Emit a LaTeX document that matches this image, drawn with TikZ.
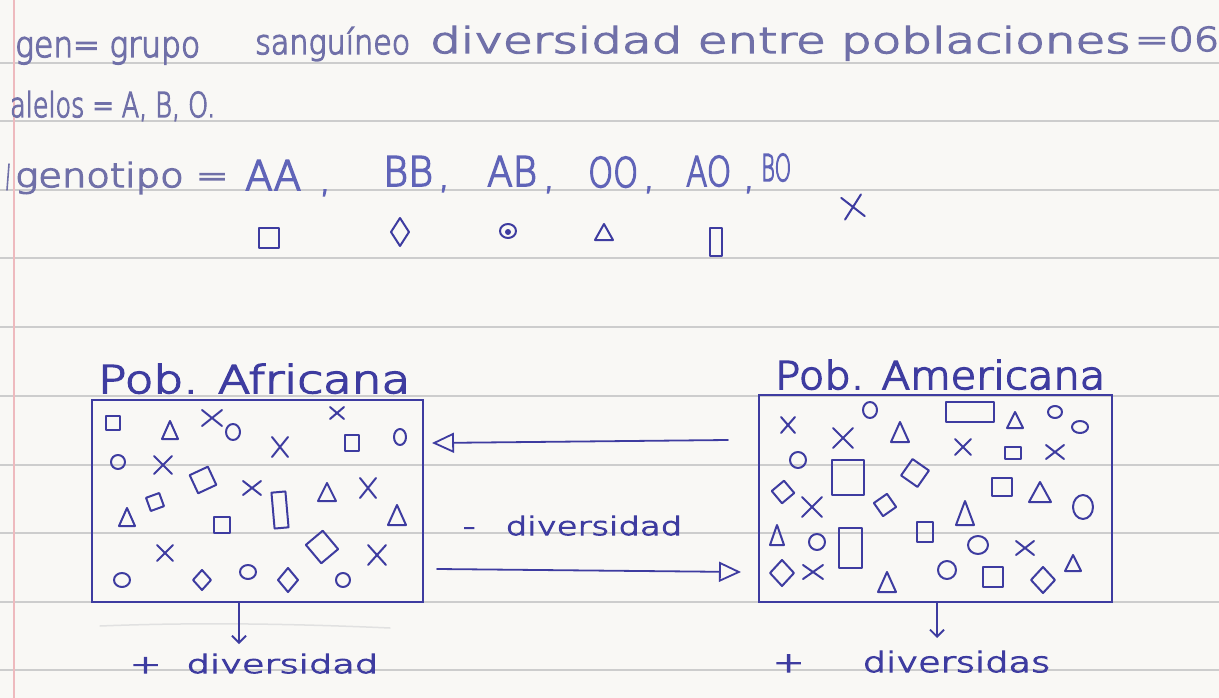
\documentclass[tikz,border=0pt]{standalone}
\usepackage{fontspec}
\usepackage{graphicx}
\setmainfont{DejaVu Sans ExtraLight}[FakeBold=4]
\usetikzlibrary{arrows.meta}

\definecolor{paper}{RGB}{249,248,245}
\definecolor{rulegray}{RGB}{205,205,205}
\definecolor{marginred}{RGB}{238,186,190}
\definecolor{pencil}{RGB}{112,112,168}
\definecolor{inkblue}{RGB}{62,60,160}
\definecolor{inklight}{RGB}{96,100,184}

% handwritten-style word: width, height above baseline, text
\newcommand\hw[3]{\resizebox{#1pt}{#2pt}{\vphantom{Ah}#3}}

% small ink symbols: x, y, width, height, rotation
\newcommand\shSq[5]{\draw[ink,shift={(#1,#2)},rotate=#5] (-#3/2,-#4/2) rectangle (#3/2,#4/2);}
\newcommand\shDm[5]{\draw[ink,shift={(#1,#2)},rotate=#5] (0,-#4/2) -- (#3/2,0) -- (0,#4/2) -- (-#3/2,0) -- cycle;}
\newcommand\shTr[5]{\draw[ink,shift={(#1,#2)},rotate=#5] (-#3/2,#4/2) -- (#3/2,#4/2) -- (0,-#4/2) -- cycle;}
\newcommand\shX[5]{\draw[ink,shift={(#1,#2)},rotate=#5] (-#3/2,-#4/2) -- (#3/2,#4/2) (-#3/2,#4/2) -- (#3/2,-#4/2);}
\newcommand\shCi[4]{\draw[ink] (#1,#2) ellipse [x radius=#3pt, y radius=#4pt];}

\begin{document}
\begin{tikzpicture}[x=1pt,y=-1pt,
  ink/.style={draw=inkblue,line width=2pt,line cap=round,line join=round},
  popbox/.style={draw=inkblue,line width=2.4pt,inner sep=0pt},
  word/.style={anchor=base west,inner sep=0pt,text=inkblue},
  pword/.style={anchor=base west,inner sep=0pt,text=pencil},
  lword/.style={anchor=base west,inner sep=0pt,text=inklight},
  commamark/.style={anchor=base,inner sep=0pt,text=inklight,font=\fontsize{34}{34}\selectfont},
  flow/.style={draw=inkblue,line width=1.8pt,line cap=round},
  openhead/.style={-{Triangle[open,length=22pt,width=20pt,line width=1.8pt]}},
  downhead/.style={-{Straight Barb[length=7pt,width=14pt,line width=1.8pt]}}]

\useasboundingbox (0,0) rectangle (1219,698);
\fill[paper] (0,0) rectangle (1219,698);

% notebook ruling and margin
\foreach \yy in {63,121,190,258,327,396,465,533,602,670}
  \draw[rulegray,line width=1.2pt] (0,\yy) -- (1219,\yy);
\draw[marginred,line width=1.4pt] (14,0) -- (14,698);
\draw[rulegray!60,line width=1.5pt,line cap=round] (100,626) .. controls (200,622) and (300,624) .. (390,628);

% header lines
\node[pword] (gen) at (15,57) {\hw{185}{27}{gen= grupo}};
\node[pword] (sang) at (255,54) {\hw{155}{27}{sanguíneo}};
\node[pword] (div) at (430,53) {\hw{700}{27}{diversidad entre poblaciones}};
\node[pword] (val) at (1135,51) {\hw{84}{25}{=06}};
\node[pword] (alelos) at (10,117) {\hw{205}{26}{alelos = A, B, O.}};
\draw[pencil,line width=1.6pt,line cap=round] (9,164) -- (7,190);
\node[pword] (genot) at (15,187) {\hw{213}{25}{genotipo =}};
\node[lword] (gAA) at (245,190) {\hw{56}{31}{AA}};
\node[lword] (gBB) at (383,186) {\hw{50}{31}{BB}};
\node[lword] (gAB) at (487,186) {\hw{50}{31}{AB}};
\node[lword] (gOO) at (588,187) {\hw{50}{31}{OO}};
\node[lword] (gAO) at (686,186) {\hw{45}{31}{AO}};
\node[lword] (gBO) at (761,181) {\hw{30}{28}{BO}};
\foreach \cx/\cy in {325/192,444/188,549/189,649/189,749/189}
  \node[commamark] at (\cx,\cy) {,};

% legend of genotype symbols
\shSq{269}{238}{20}{20}{0}
\shDm{400}{232}{18}{28}{0}
\shCi{508}{231}{8}{7}
\fill[inkblue] (508,232) circle[radius=3pt];
\shTr{604}{232}{18}{16}{0}
\shSq{716}{242}{12}{28}{0}
\shX{853}{207}{20}{22}{10}

% populations
\node[word] (tafr) at (98,393) {\hw{312}{29}{Pob. Africana}};
\node[word] (tamer) at (775,389) {\hw{330}{29}{Pob. Americana}};
\node[popbox,minimum width=331pt,minimum height=202pt] (afr) at (257.5,501) {};
\node[popbox,minimum width=353pt,minimum height=207pt] (amer) at (935.5,498.5) {};

% African population sample
\shSq{113}{423}{14}{14}{0}
\shTr{170}{430}{16}{18}{0}
\shX{212}{418}{20}{16}{0}
\shCi{233}{432}{7}{8}
\shX{280}{447}{16}{20}{0}
\shX{337}{413}{14}{12}{0}
\shSq{352}{443}{14}{16}{0}
\shCi{400}{437}{6}{8}
\shCi{118}{462}{7}{7}
\shX{163}{465}{18}{18}{0}
\shSq{203}{480}{20}{20}{25}
\shX{252}{488}{18}{14}{0}
\shSq{280}{510}{14}{36}{5}
\shTr{327}{492}{18}{18}{0}
\shX{368}{488}{16}{20}{0}
\shTr{397}{515}{18}{20}{0}
\shTr{127}{517}{16}{18}{0}
\shSq{155}{502}{14}{14}{20}
\shSq{222}{525}{16}{16}{0}
\shX{165}{553}{16}{16}{0}
\shSq{322}{547}{22}{24}{40}
\shX{377}{555}{18}{20}{0}
\shCi{122}{580}{8}{7}
\shDm{202}{580}{18}{20}{0}
\shCi{248}{572}{8}{7}
\shDm{288}{580}{20}{24}{0}
\shCi{343}{580}{7}{7}

% American population sample
\shX{788}{425}{14}{16}{0}
\shCi{870}{410}{7}{8}
\shX{843}{438}{20}{20}{0}
\shTr{900}{432}{18}{20}{0}
\shSq{970}{412}{48}{20}{0}
\shTr{1015}{420}{16}{16}{0}
\shCi{1055}{412}{7}{6}
\shCi{1080}{427}{8}{6}
\shX{963}{447}{16}{16}{0}
\shSq{1013}{453}{16}{12}{0}
\shX{1055}{452}{18}{14}{0}
\shCi{798}{460}{8}{8}
\shSq{848}{477}{32}{35}{0}
\shSq{915}{473}{20}{20}{-35}
\shSq{783}{492}{16}{16}{40}
\shX{812}{507}{20}{20}{0}
\shSq{1002}{487}{20}{18}{0}
\shTr{1040}{492}{22}{20}{0}
\shCi{1083}{507}{10}{12}
\shSq{885}{505}{16}{16}{35}
\shTr{965}{513}{18}{24}{0}
\shTr{777}{535}{14}{20}{0}
\shCi{817}{542}{8}{8}
\shSq{850}{548}{23}{40}{0}
\shSq{925}{532}{16}{20}{0}
\shCi{978}{545}{10}{9}
\shX{1025}{548}{18}{14}{0}
\shDm{782}{573}{24}{26}{0}
\shX{813}{572}{20}{14}{0}
\shTr{887}{582}{18}{20}{0}
\shCi{947}{570}{9}{9}
\shSq{993}{577}{20}{20}{0}
\shDm{1043}{580}{24}{26}{0}
\shTr{1073}{563}{16}{16}{0}

% exchange between populations
\coordinate (gfrom) at (728,440);
\coordinate (gto) at (432,443);
\draw[flow,openhead] (gfrom) -- (gto);
\node[word] (less) at (463,535) {\hw{219}{19}{-\hspace{0.9em}diversidad}};
\coordinate (hfrom) at (437,569);
\coordinate (hto) at (741,572);
\draw[flow,openhead] (hfrom) -- (hto);

% outcome below each population
\node[word] (morea) at (130,673) {\hw{248}{19}{+\hspace{0.7em}diversidad}};
\node[word] (moreb) at (773,672) {\hw{277}{21}{+\hspace{1.6em}diversidas}};
\draw[flow,downhead] (afr.south -| 239,0) -- (239,644);
\draw[flow,downhead] (amer.south -| 937,0) -- (937,638);

\end{tikzpicture}
\end{document}
